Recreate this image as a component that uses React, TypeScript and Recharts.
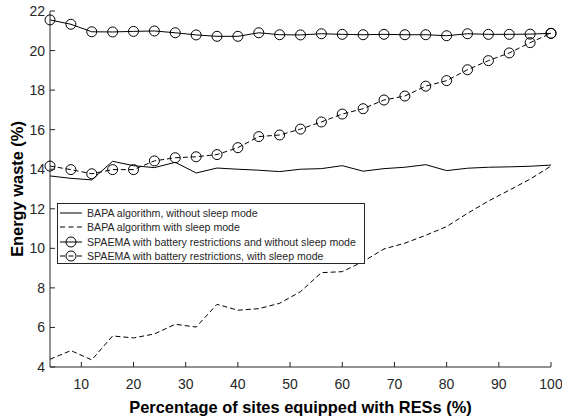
import {
  Label,
  Legend,
  Line,
  LineChart,
  XAxis,
  YAxis,
} from "recharts";

const sitesPct = [4, 8, 12, 16, 20, 24, 28, 32, 36, 40, 44, 48, 52, 56, 60, 64, 68, 72, 76, 80, 84, 88, 92, 96, 100];

const bapaNoSleep = [13.66, 13.54, 13.46, 14.4, 14.18, 14.08, 14.35, 13.81, 14.06, 14.0, 13.95, 13.88, 14.0, 14.03, 14.18, 13.9, 14.03, 14.1, 14.23, 13.93, 14.05, 14.1, 14.12, 14.15, 14.21];
const bapaSleep = [4.39, 4.83, 4.36, 5.57, 5.47, 5.67, 6.16, 6.02, 7.17, 6.87, 6.95, 7.22, 7.81, 8.77, 8.82, 9.33, 9.97, 10.26, 10.66, 11.1, 11.77, 12.39, 12.94, 13.5, 14.16];
const spaemaNoSleep = [21.55, 21.33, 20.95, 20.94, 20.97, 20.99, 20.9, 20.79, 20.72, 20.72, 20.9, 20.8, 20.79, 20.85, 20.82, 20.8, 20.82, 20.8, 20.8, 20.75, 20.85, 20.82, 20.82, 20.83, 20.87];
const spaemaSleep = [14.16, 13.98, 13.77, 13.98, 13.98, 14.42, 14.58, 14.63, 14.74, 15.09, 15.65, 15.73, 16.03, 16.39, 16.79, 17.06, 17.5, 17.7, 18.2, 18.48, 19.03, 19.49, 19.88, 20.4, 20.87];

const xTicks = [10, 20, 30, 40, 50, 60, 70, 80, 90, 100];
const yTicks = [4, 6, 8, 10, 12, 14, 16, 18, 20, 22];

const seriesNames = [
  "BAPA algorithm, without sleep mode",
  "BAPA algorithm with sleep mode",
  "SPAEMA with battery restrictions and without sleep mode",
  "SPAEMA with battery restrictions, with sleep mode",
];

const rows = sitesPct.map((x, i) => ({
  x,
  bapaNoSleep: bapaNoSleep[i],
  bapaSleep: bapaSleep[i],
  spaemaNoSleep: spaemaNoSleep[i],
  spaemaSleep: spaemaSleep[i],
}));

const FONT = '"Liberation Sans", Arial, Helvetica, sans-serif';
const AXIS = "#262626";
const DASH = "5 3";

const legendStyles = [
  { dash: undefined, marker: false },
  { dash: "5 3.5", marker: false },
  { dash: undefined, marker: true },
  { dash: "5 3.5", marker: true },
];

function LegendBox() {
  return (
    <div
      style={{
        border: "1px solid #262626",
        background: "#fff",
        padding: "2px 8px 0px 2px",
        fontFamily: FONT,
        fontSize: 10.6,
        color: "#262626",
        lineHeight: "14.3px",
        whiteSpace: "nowrap",
      }}
    >
      {seriesNames.map((name, i) => (
        <div key={name} style={{ display: "flex", alignItems: "center", height: 14.3 }}>
          <svg width={22} height={14} style={{ marginRight: 5, flex: "none" }}>
            <line
              x1={0}
              x2={22}
              y1={7}
              y2={7}
              stroke="#000"
              strokeWidth={1}
              strokeDasharray={legendStyles[i].dash}
            />
            {legendStyles[i].marker && (
              <circle cx={11} cy={7} r={5} fill="none" stroke="#000" strokeWidth={1} />
            )}
          </svg>
          <span>{name}</span>
        </div>
      ))}
    </div>
  );
}

const dotStyle = { r: 5, fill: "none", stroke: "#000", strokeWidth: 1, strokeDasharray: "none" };

export default function App() {
  return (
    <div style={{ position: "fixed", left: 0, top: 0, background: "#fff" }}>
      <LineChart
        width={562}
        height={418}
        data={rows}
        margin={{ top: 11, right: 11, bottom: 0, left: 0 }}
        style={{ fontFamily: FONT }}
      >
        <XAxis
          dataKey="x"
          type="number"
          domain={[4, 100]}
          ticks={xTicks}
          height={51}
          tickSize={-5}
          tickMargin={17}
          stroke={AXIS}
          tick={{ fill: AXIS, fontSize: 14 }}
          interval={0}
        >
          <Label
            value="Percentage of sites equipped with RESs (%)"
            position="insideBottom"
            offset={5}
            style={{ fontWeight: "bold", fontSize: 16.4, fill: "#000" }}
          />
        </XAxis>
        <XAxis
          xAxisId="top"
          dataKey="x"
          type="number"
          orientation="top"
          domain={[4, 100]}
          ticks={xTicks}
          height={0}
          tickSize={-5}
          tickFormatter={() => ""}
          stroke={AXIS}
        />
        <YAxis
          type="number"
          domain={[4, 22]}
          ticks={yTicks}
          width={50}
          tickSize={-5}
          tickMargin={10}
          stroke={AXIS}
          tick={{ fill: AXIS, fontSize: 14 }}
          interval={0}
        >
          <Label
            value="Energy waste (%)"
            angle={-90}
            position={{ x: 23, y: 178 }}
            style={{ fontWeight: "bold", fontSize: 16.4, fill: "#000", textAnchor: "middle" }}
          />
        </YAxis>
        <YAxis
          yAxisId="right"
          type="number"
          orientation="right"
          domain={[4, 22]}
          ticks={yTicks}
          width={0}
          tickSize={-5}
          tickFormatter={() => ""}
          stroke={AXIS}
        />
        <Legend
          layout="vertical"
          align="center"
          verticalAlign="middle"
          content={() => <LegendBox />}
          wrapperStyle={{ left: 57, top: 203, width: "auto" }}
        />
        <Line
          dataKey="bapaNoSleep"
          name={seriesNames[0]}
          stroke="#000"
          strokeWidth={1}
          dot={false}
          activeDot={false}
          isAnimationActive={false}
        />
        <Line
          dataKey="bapaSleep"
          name={seriesNames[1]}
          stroke="#000"
          strokeWidth={1}
          strokeDasharray={DASH}
          dot={false}
          activeDot={false}
          isAnimationActive={false}
        />
        <Line
          dataKey="spaemaNoSleep"
          name={seriesNames[2]}
          stroke="#000"
          strokeWidth={1}
          dot={dotStyle}
          activeDot={false}
          isAnimationActive={false}
        />
        <Line
          dataKey="spaemaSleep"
          name={seriesNames[3]}
          stroke="#000"
          strokeWidth={1}
          strokeDasharray={DASH}
          dot={dotStyle}
          activeDot={false}
          isAnimationActive={false}
        />
      </LineChart>
    </div>
  );
}
